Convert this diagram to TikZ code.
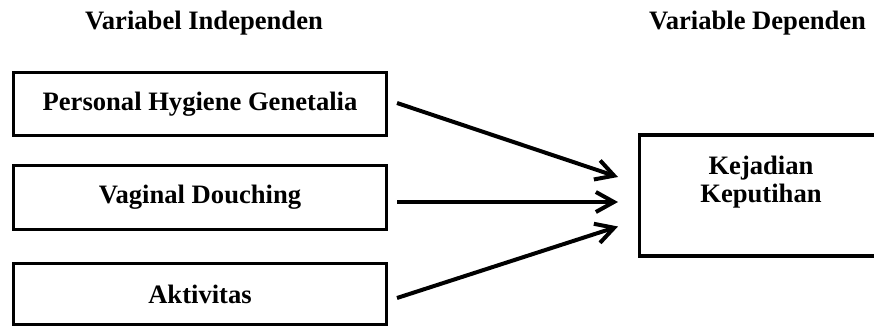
\documentclass[tikz,border=0pt]{standalone}
\usepackage{fontspec}
\setmainfont{Liberation Serif}
\usetikzlibrary{arrows.meta, positioning, calc}

\begin{document}
\begin{tikzpicture}[x=0.5pt, y=-0.5pt,
    font=\fontsize{13.3}{14}\selectfont\bfseries,
    varbox/.style={draw, line width=1.7pt, minimum width=186.5pt, inner sep=0pt, outer sep=0pt},
    heading/.style={anchor=base},
    arr/.style={line width=2pt, -{Straight Barb[length=9pt, width=10pt]}}]
    \useasboundingbox (0,0) rectangle (874,327);

    % Headings
    \node[heading] (indep) at (204,29) {Variabel Independen};
    \node[heading] (dep) at (757.5,29) {Variable Dependen};

    % Independent variables
    \node[varbox, minimum height=31.5pt] (hygiene) at (200,104) {Personal Hygiene Genetalia};
    \node[varbox, minimum height=32pt] (douching) at (200,197.5) {Vaginal Douching};
    \node[varbox, minimum height=30.5pt] (aktivitas) at (200,294) {Aktivitas};

    % Dependent variable
    \node[varbox, minimum width=125pt, minimum height=60.5pt, anchor=north west] (kejadian) at (639.5,135) {};
    \node[align=center] (keputihan) at (761,182) {Kejadian\\Keputihan};

    % Arrows
    \draw[arr] ($(hygiene.east)+(10.5,-1)$) -- ($(kejadian.west)+(-21.5,-18.5)$);
    \draw[arr] ($(douching.east)+(10.5,4.5)$) -- ($(kejadian.west)+(-21.5,6.5)$);
    \draw[arr] ($(aktivitas.east)+(10.5,4)$) -- ($(kejadian.west)+(-21.5,31)$);
\end{tikzpicture}
\end{document}
